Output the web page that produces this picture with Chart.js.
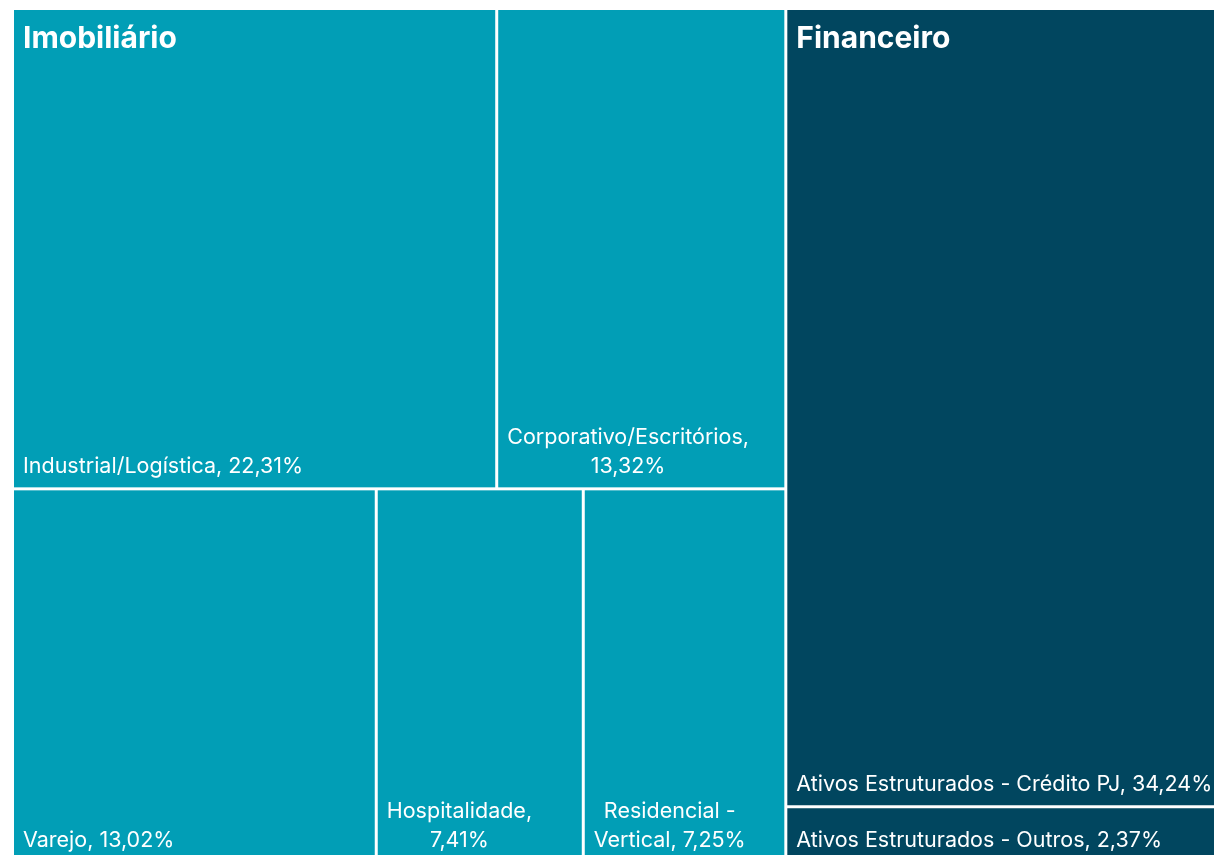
<!DOCTYPE html>
<html>
<head>
<meta charset="utf-8">
<script src="https://cdn.jsdelivr.net/npm/chart.js@4.4.1/dist/chart.umd.min.js"></script>
<style>
  html, body { margin: 0; padding: 0; background: #ffffff; overflow: hidden; }
  #wrap { position: absolute; left: 0; top: 0; width: 1233px; height: 862px; }
</style>
</head>
<body>
<div id="wrap"><canvas id="c" width="1233" height="862"></canvas></div>
<script>
// ---- Data ----
const categories = [
  'Industrial/Logística',
  'Corporativo/Escritórios',
  'Varejo',
  'Hospitalidade',
  'Residencial - Vertical',
  'Ativos Estruturados - Crédito PJ',
  'Ativos Estruturados - Outros'
];
const values = [22.31, 13.32, 13.02, 7.41, 7.25, 34.24, 2.37];
const groupOf = ['Imobiliário', 'Imobiliário', 'Imobiliário', 'Imobiliário', 'Imobiliário', 'Financeiro', 'Financeiro'];
const rowOf = [0, 0, 1, 1, 1, 0, 1];
const groups = ['Imobiliário', 'Financeiro'];
const groupColors = ['#019EB6', '#01465F'];

// ---- Treemap layout in value space (x: 0..100, y: 0..100) ----
const total = values.reduce((a, b) => a + b, 0);
const cells = [];
const groupRects = [];
let gx = 0;
groups.forEach((g, gi) => {
  const idx = categories.map((_, i) => i).filter(i => groupOf[i] === g);
  const gsum = idx.reduce((a, i) => a + values[i], 0);
  const gw = gsum / total * 100;
  groupRects.push({ name: g, x0: gx, x1: gx + gw, y0: 0, y1: 100, color: groupColors[gi] });
  const rows = [...new Set(idx.map(i => rowOf[i]))].sort((a, b) => a - b);
  let gy = 0;
  rows.forEach(r => {
    const ri = idx.filter(i => rowOf[i] === r);
    const rsum = ri.reduce((a, i) => a + values[i], 0);
    const rh = rsum / gsum * 100;
    let cx = gx;
    ri.forEach(i => {
      const cw = values[i] / rsum * gw;
      cells.push({ i, x0: cx, x1: cx + cw, y0: gy, y1: gy + rh, color: groupColors[gi] });
      cx += cw;
    });
    gy += rh;
  });
  gx += gw;
});

function fmt(v) { return v.toFixed(2).replace('.', ',') + '%'; }

const FONT = '"Inter", "Noto Sans", sans-serif';

function wrap(ctx, text, maxW) {
  const words = text.split(' ');
  const lines = [];
  let cur = '';
  words.forEach(w => {
    const t = cur ? cur + ' ' + w : w;
    if (ctx.measureText(t).width <= maxW || !cur) cur = t;
    else { lines.push(cur); cur = w; }
  });
  if (cur) lines.push(cur);
  return lines;
}

const treemapPlugin = {
  id: 'treemap',
  afterDatasetsDraw(chart) {
    const ctx = chart.ctx;
    const xs = chart.scales.x, ys = chart.scales.y;
    const gap = 1.5;
    ctx.save();
    cells.forEach(c => {
      const l = xs.getPixelForValue(c.x0) + gap;
      const r = xs.getPixelForValue(c.x1) - gap;
      const t = ys.getPixelForValue(c.y0) + gap;
      const b = ys.getPixelForValue(c.y1) - gap;
      ctx.fillStyle = c.color;
      ctx.fillRect(l, t, r - l, b - t);
    });
    // cell labels
    ctx.fillStyle = '#ffffff';
    ctx.font = '21.5px ' + FONT;
    ctx.textBaseline = 'alphabetic';
    const pad = 9;
    const lh = 29;
    cells.forEach(c => {
      const l = xs.getPixelForValue(c.x0) + gap;
      const r = xs.getPixelForValue(c.x1) - gap;
      const b = ys.getPixelForValue(c.y1) - gap;
      const label = categories[c.i] + ', ' + fmt(values[c.i]);
      const lines = wrap(ctx, label, r - l - pad - 3);
      const bw = Math.max(...lines.map(s => ctx.measureText(s).width));
      const cxm = l + pad + bw / 2;
      ctx.textAlign = 'center';
      lines.forEach((s, k) => {
        const y = b - 14 - (lines.length - 1 - k) * lh;
        ctx.fillText(s, cxm, y);
      });
    });
    // group titles
    ctx.font = 'bold 30px ' + FONT;
    ctx.textAlign = 'left';
    groupRects.forEach(g => {
      const l = xs.getPixelForValue(g.x0) + gap;
      const t = ys.getPixelForValue(g.y0) + gap;
      ctx.fillText(g.name, l + 9, t + 38);
    });
    ctx.restore();
  }
};

new Chart(document.getElementById('c'), {
  type: 'scatter',
  data: {
    datasets: groups.map((g, gi) => ({
      label: g,
      data: cells.filter(c => groupOf[c.i] === g).map(c => ({ x: (c.x0 + c.x1) / 2, y: (c.y0 + c.y1) / 2, name: categories[c.i], v: values[c.i] })),
      pointRadius: 0,
      pointHoverRadius: 0,
      backgroundColor: groupColors[gi]
    }))
  },
  options: {
    responsive: false,
    animation: false,
    devicePixelRatio: 1,
    layout: { padding: { left: 12.5, top: 8.5, right: 0, bottom: 0 } },
    scales: {
      x: { type: 'linear', min: 0, max: 100, display: false },
      y: { type: 'linear', min: 0, max: 100, reverse: true, display: false }
    },
    plugins: {
      legend: { display: false },
      tooltip: {
        callbacks: {
          label: (item) => item.raw.name + ', ' + fmt(item.raw.v)
        }
      }
    }
  },
  plugins: [treemapPlugin]
});
</script>
</body>
</html>
